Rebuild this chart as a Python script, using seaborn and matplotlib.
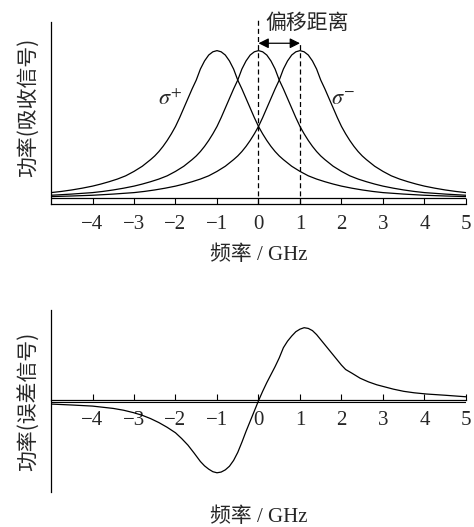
import numpy as np
import pandas as pd
import matplotlib
matplotlib.use('Agg')
import matplotlib.pyplot as plt
import seaborn as sns

# форма одной линии поглощения (максимум = 1), симметрична
half_offset = [0, 0.1, 0.2, 0.3, 0.4, 0.5, 0.6, 0.7, 0.8, 0.9, 1.0, 1.1, 1.2, 1.3, 1.4, 1.5,
               1.6, 1.8, 2.0, 2.2, 2.4, 2.6, 2.8, 3.0, 3.25, 3.5, 3.75, 4.0, 4.5, 5.0, 5.5, 6.0]
half_value = [1.0, 0.992, 0.97, 0.93, 0.875, 0.80, 0.74, 0.675, 0.61, 0.545, 0.485, 0.435, 0.39, 0.35, 0.315, 0.285,
              0.26, 0.215, 0.18, 0.15, 0.128, 0.11, 0.094, 0.08, 0.066, 0.054, 0.044, 0.036, 0.026, 0.018, 0.013, 0.009]
centers = [-1, 0, 1]
line_names = ['sigma_plus', 'pi', 'sigma_minus']

# сигнал ошибки (экстремум = 1)
err_x = [-5.0, -4.5, -4.0, -3.5, -3.25, -3.0, -2.8, -2.6, -2.4, -2.2, -2.0, -1.85, -1.7, -1.55,
         -1.4, -1.3, -1.2, -1.1, -1.0, -0.9, -0.8, -0.7, -0.6, -0.5, -0.4, -0.3, -0.2, -0.1,
         0.0, 0.1, 0.2, 0.3, 0.4, 0.5, 0.6, 0.7, 0.8, 0.9, 1.0, 1.1, 1.2, 1.3, 1.4, 1.5,
         1.6, 1.7, 1.8, 1.9, 2.0, 2.1, 2.25, 2.45, 2.65, 2.85, 3.05, 3.25, 3.5, 3.75, 4.05,
         4.5, 5.0]
err_y = [-0.055, -0.068, -0.083, -0.115, -0.14, -0.175, -0.21, -0.255, -0.31, -0.375, -0.45, -0.53, -0.62, -0.73,
         -0.845, -0.905, -0.95, -0.985, -1.0, -0.99, -0.96, -0.91, -0.83, -0.72, -0.58, -0.43, -0.29, -0.15,
         -0.01, 0.12, 0.24, 0.35, 0.46, 0.58, 0.72, 0.81, 0.88, 0.94, 0.975, 0.995, 0.985, 0.955, 0.90, 0.83,
         0.76, 0.69, 0.62, 0.55, 0.48, 0.42, 0.37, 0.30, 0.25, 0.21, 0.18, 0.15, 0.12, 0.10, 0.083,
         0.066, 0.045]

xticks = [-4, -3, -2, -1, 0, 1, 2, 3, 4, 5]
shift_lines = [0, 1]

# собираем длинную таблицу для трёх линий
rows = []
for c, name in zip(centers, line_names):
    for d, v in zip(half_offset, half_value):
        rows.append({'x': c - d, 'y': v, 'line': name})
        if d > 0:
            rows.append({'x': c + d, 'y': v, 'line': name})
absorb = pd.DataFrame(rows)

sns.set_theme(style='white')
plt.rcParams['font.family'] = ['Liberation Serif', 'Noto Sans CJK SC']
plt.rcParams['mathtext.fontset'] = 'stix'
plt.rcParams['axes.unicode_minus'] = True

cjk = ['Noto Sans CJK SC', 'DejaVu Sans']
mix = ['Liberation Serif', 'Noto Sans CJK SC']

fig = plt.figure(figsize=(4.74, 5.27), dpi=100)
ax1 = fig.add_axes([0.1076, 0.613, 0.8755, 0.346])
ax2 = fig.add_axes([0.1076, 0.067, 0.8755, 0.345])

# ---------- верхний график: поглощение ----------
sns.lineplot(data=absorb, x='x', y='y', units='line', estimator=None, color='black',
             lw=0.9, ax=ax1, legend=False)
ax1.set_xlim(-5, 5)
ax1.set_ylim(-0.041, 1.197)
ax1.axhline(0, color='black', lw=0.9)
for xv, top in zip(shift_lines, [1.205, 1.06]):
    ax1.vlines(xv, -0.041, top, colors='black', lw=0.9, linestyles=(0, (4, 2.5)), clip_on=False)
ax1.annotate('', xy=(shift_lines[1], 1.05), xytext=(shift_lines[0], 1.05),
             arrowprops=dict(arrowstyle='<|-|>', color='black', lw=0.9,
                             mutation_scale=15, shrinkA=0, shrinkB=0))
ax1.text(0.17, 1.19, '偏移距离', ha='left', va='center', fontsize=15, family=cjk)
ax1.text(-2.12, 0.665, r'$\sigma^{+}$', ha='center', va='center', fontsize=16)
ax1.text(2.03, 0.665, r'$\sigma^{-}$', ha='center', va='center', fontsize=16)

ax1.set_xlabel('频率 / GHz', fontsize=15, family=mix)
ax1.xaxis.set_label_coords(0.5, -0.28)
ax1.xaxis.label.set_va('center')
ax1.set_ylabel('功率(吸收信号)', fontsize=15, family=cjk)
ax1.yaxis.set_label_coords(-0.055, 0.532)
ax1.yaxis.label.set_va('center')

# ---------- нижний график: сигнал ошибки ----------
sns.lineplot(x=err_x, y=err_y, color='black', lw=0.9, ax=ax2)
ax2.set_xlim(-5, 5)
ax2.set_ylim(-1.26, 1.24)
ax2.spines['bottom'].set_position(('data', 0))
ax2.axhline(-0.033, color='black', lw=0.8)

ax2.set_xlabel('频率 / GHz', fontsize=15, family=mix)
ax2.xaxis.set_label_coords(0.5, -0.138)
ax2.xaxis.label.set_va('center')
ax2.set_ylabel('功率(误差信号)', fontsize=15, family=cjk)
ax2.yaxis.set_label_coords(-0.054, 0.495)
ax2.yaxis.label.set_va('center')

for ax in (ax1, ax2):
    for s in ('top', 'right'):
        ax.spines[s].set_visible(False)
    for s in ('left', 'bottom'):
        ax.spines[s].set_color('black')
        ax.spines[s].set_linewidth(0.9)
    ax.set_xticks(xticks)
    ax.set_yticks([])
    ax.tick_params(axis='x', direction='in', length=4.3, width=0.8, color='black',
                   pad=8.0, labelsize=15, bottom=True)
    for lab in ax.get_xticklabels():
        lab.set_family('Liberation Serif')

plt.savefig('out.png', dpi=100)
